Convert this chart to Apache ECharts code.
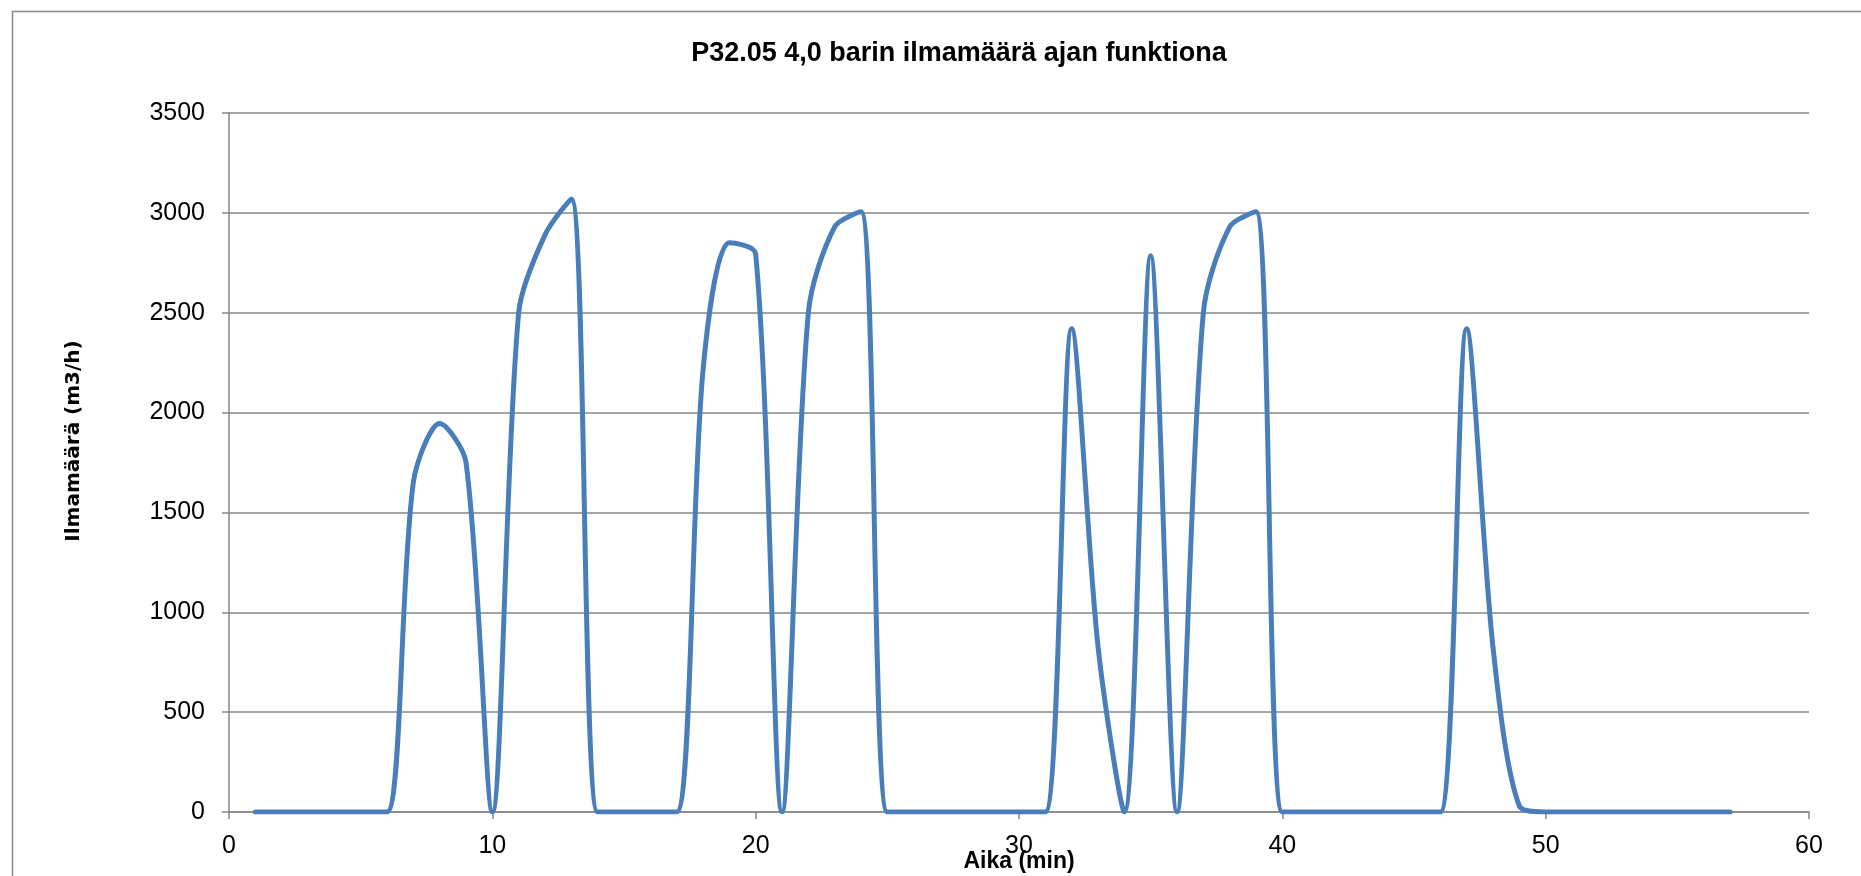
<!DOCTYPE html>
<html>
<head>
<meta charset="utf-8">
<title>P32.05 4,0 barin ilmamäärä ajan funktiona</title>
<script src="https://cdn.jsdelivr.net/npm/echarts@6/dist/echarts.min.js"></script>
<style>
  html, body { margin: 0; padding: 0; background: #ffffff; }
  #chart { width: 1861px; height: 876px; }
</style>
</head>
<body>
<div id="chart"></div>
<script>
// Aika (min)
const minutes = [
  1, 2, 3, 4, 5, 6, 7, 8, 9, 10,
  11, 12, 13, 14, 15, 16, 17, 18, 19, 20,
  21, 22, 23, 24, 25, 26, 27, 28, 29, 30,
  31, 32, 33, 34, 35, 36, 37, 38, 39, 40,
  41, 42, 43, 44, 45, 46, 47, 48, 49, 50,
  51, 52, 53, 54, 55, 56, 57
];

// Ilmamäärä (m3/h)
const airflow = [
  0, 0, 0, 0, 0, 0, 1650, 1945, 1750, 0,
  2500, 2890, 3070, 0, 0, 0, 0, 2210, 2850, 2795,
  0, 2500, 2930, 3005, 0, 0, 0, 0, 0, 0,
  0, 2420, 830, 0, 2785, 0, 2500, 2930, 3005, 0,
  0, 0, 0, 0, 0, 0, 2420, 825, 30, 0,
  0, 0, 0, 0, 0, 0, 0
];

const xTicks = [0, 10, 20, 30, 40, 50, 60];
const yTicks = [0, 500, 1000, 1500, 2000, 2500, 3000, 3500];

const titleText = 'P32.05 4,0 barin ilmamäärä ajan funktiona';
const xName = 'Aika (min)';
const yName = 'Ilmamäärä (m3/h)';

const points = minutes.map((t, i) => [t, airflow[i]]);

const gray = '#868686';
const labelFont = '"Liberation Sans", Arial, sans-serif';

const chart = echarts.init(document.getElementById('chart'), null, { renderer: 'canvas' });

chart.setOption({
  backgroundColor: '#ffffff',
  animation: false,
  title: {
    text: titleText,
    left: 954,
    textAlign: 'center',
    top: 35,
    textStyle: {
      fontFamily: labelFont,
      fontWeight: 'bold',
      fontSize: 27,
      color: '#000000'
    }
  },
  graphic: [
    {
      type: 'rect',
      left: 10,
      top: 9,
      silent: true,
      shape: { width: 1900, height: 900 },
      style: { fill: 'none', stroke: gray, lineWidth: 1.5 }
    },
    {
      // vertical axis title
      type: 'text',
      x: 74,
      y: 441,
      rotation: Math.PI / 2,
      silent: true,
      style: {
        text: yName,
        fontFamily: '"DejaVu Sans", Verdana, sans-serif',
        fontWeight: 'bold',
        fontSize: 20,
        fill: '#000000',
        align: 'center',
        verticalAlign: 'middle'
      }
    },
    {
      // horizontal axis title, sits just under the tick labels
      type: 'text',
      x: 1019,
      y: 862,
      silent: true,
      style: {
        text: xName,
        fontFamily: labelFont,
        fontWeight: 'bold',
        fontSize: 23,
        fill: '#000000',
        align: 'center',
        verticalAlign: 'middle'
      }
    }
  ],
  grid: {
    left: 229,
    right: 52,
    top: 113,
    bottom: 64,
    containLabel: false
  },
  xAxis: {
    type: 'value',
    min: xTicks[0],
    max: xTicks[xTicks.length - 1],
    interval: xTicks[1] - xTicks[0],
    axisLine: { show: true, onZero: false, lineStyle: { color: gray, width: 1.5 } },
    axisTick: { show: true, length: 7, lineStyle: { color: gray, width: 1.5 } },
    axisLabel: {
      margin: 22,
      fontFamily: labelFont,
      fontSize: 25,
      color: '#000000',
      formatter: (v) => String(v)
    },
    splitLine: { show: false }
  },
  yAxis: {
    type: 'value',
    min: yTicks[0],
    max: yTicks[yTicks.length - 1],
    interval: yTicks[1] - yTicks[0],
    axisLine: { show: true, lineStyle: { color: gray, width: 1.5 } },
    axisTick: { show: true, length: 7, lineStyle: { color: gray, width: 1.5 } },
    axisLabel: {
      margin: 24,
      fontFamily: labelFont,
      fontSize: 25,
      color: '#000000',
      formatter: (v) => String(v)
    },
    splitLine: { show: true, lineStyle: { color: gray, width: 1.5 } }
  },
  series: [
    {
      name: yName,
      type: 'line',
      data: points,
      smooth: 0.3,
      showSymbol: false,
      symbol: 'none',
      clip: true,
      lineStyle: { color: '#4A7EBB', width: 5, cap: 'round', join: 'round' },
      itemStyle: { color: '#4A7EBB' }
    }
  ]
});
</script>
</body>
</html>
